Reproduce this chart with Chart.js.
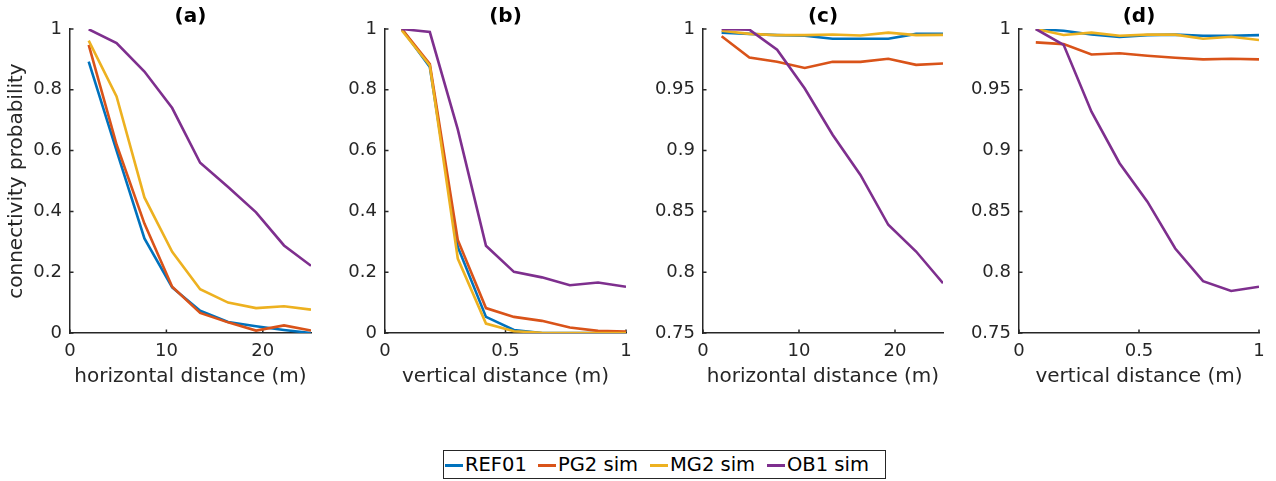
<!DOCTYPE html>
<html>
<head>
<meta charset="utf-8">
<script src="https://cdn.jsdelivr.net/npm/chart.js@4/dist/chart.umd.min.js"></script>
<style>
body { margin: 0; background: #fff; width: 1276px; height: 481px; position: relative; overflow: hidden; font-family: "DejaVu Sans", sans-serif; }
canvas { position: absolute; top: 0; }
#legend { position: absolute; left: 443px; top: 450px; width: 441px; height: 27px; border: 1px solid #262626; background: #fff; }
.item { position: absolute; top: 0; height: 27px; line-height: 27px; font-size: 19.5px; color: #000; white-space: nowrap; }
.sw { display: inline-block; width: 18px; height: 3px; vertical-align: middle; margin-right: 2px; }
</style>
</head>
<body>
<canvas id="chartA" width="331" height="400" style="left:0px"></canvas>
<canvas id="chartB" width="331" height="400" style="left:315px"></canvas>
<canvas id="chartC" width="331" height="400" style="left:633px"></canvas>
<canvas id="chartD" width="331" height="400" style="left:949px"></canvas>
<div id="legend"></div>
<script>
// distances (bin centres)
const xHoriz = [1.94, 4.83, 7.72, 10.6, 13.5, 16.4, 19.3, 22.2, 25.0];
const xVert = [0.07, 0.186, 0.302, 0.419, 0.535, 0.651, 0.767, 0.884, 1.0];

// (a) horizontal
const refA = [0.893, 0.60, 0.311, 0.15, 0.073, 0.036, 0.022, 0.01, 0.0];
const pg2A = [0.948, 0.62, 0.36, 0.152, 0.066, 0.035, 0.008, 0.025, 0.008];
const mg2A = [0.962, 0.778, 0.446, 0.267, 0.144, 0.10, 0.082, 0.088, 0.077];
const ob1A = [0.999, 0.954, 0.86, 0.74, 0.56, 0.48, 0.397, 0.288, 0.221];

// (b) vertical
const refB = [1.0, 0.875, 0.283, 0.053, 0.01, 0.0, 0.0, 0.0, 0.0];
const pg2B = [1.0, 0.885, 0.306, 0.082, 0.053, 0.04, 0.018, 0.007, 0.005];
const mg2B = [0.995, 0.88, 0.245, 0.031, 0.006, 0.001, 0.0, 0.0, 0.0];
const ob1B = [1.0, 0.99, 0.67, 0.287, 0.201, 0.183, 0.157, 0.166, 0.152];

// (c) horizontal, zoomed
const refC = [0.997, 0.996, 0.995, 0.9945, 0.992, 0.992, 0.992, 0.996, 0.996];
const pg2C = [0.994, 0.9766, 0.973, 0.968, 0.973, 0.973, 0.9755, 0.9705, 0.9716];
const mg2C = [0.9986, 0.996, 0.995, 0.995, 0.9955, 0.9946, 0.997, 0.995, 0.9952];
const ob1C = [1.0, 0.9995, 0.983, 0.951, 0.913, 0.880, 0.839, 0.817, 0.791];

// (d) vertical, zoomed
const refD = [1.0, 0.9985, 0.9955, 0.9935, 0.995, 0.9954, 0.9945, 0.9945, 0.995];
const pg2D = [0.989, 0.9876, 0.979, 0.980, 0.978, 0.9763, 0.975, 0.9755, 0.975];
const mg2D = [1.0, 0.9951, 0.997, 0.9945, 0.9954, 0.9954, 0.992, 0.9936, 0.9909];
const ob1D = [1.0, 0.987, 0.932, 0.8896, 0.858, 0.8195, 0.7926, 0.7846, 0.788];

const seriesNames = ['REF01', 'PG2 sim', 'MG2 sim', 'OB1 sim'];
const seriesColors = ['#0072BD', '#D95319', '#EDB120', '#7E2F8E'];

const xTicksH = [0, 10, 20];
const xTicksV = [0, 0.5, 1];
const yTicksFull = [0, 0.2, 0.4, 0.6, 0.8, 1];
const yTicksZoom = [0.75, 0.8, 0.85, 0.9, 0.95, 1];

const axisColor = '#262626';
const fontFamily = '"DejaVu Sans", sans-serif';

// MATLAB style inward tick marks
const innerTicks = {
    id: 'innerTicks',
    beforeDatasetsDraw(chart) {
        const { ctx, chartArea: a, scales: { x, y } } = chart;
        ctx.save();
        ctx.strokeStyle = axisColor;
        ctx.lineWidth = 1.5;
        ctx.beginPath();
        x.ticks.forEach(t => {
            const px = x.getPixelForValue(t.value);
            ctx.moveTo(px, a.bottom);
            ctx.lineTo(px, a.bottom - 3.5);
        });
        y.ticks.forEach(t => {
            const py = y.getPixelForValue(t.value);
            ctx.moveTo(a.left, py);
            ctx.lineTo(a.left + 3.5, py);
        });
        ctx.stroke();
        ctx.restore();
    }
};

function drawPanel(id, title, xs, series, xMax, xTicks, yMin, yTicks, xTitle, yTitle, plotWidth) {
    const ctx = document.getElementById(id).getContext('2d');
    return new Chart(ctx, {
        type: 'line',
        data: {
            datasets: series.map((vals, i) => ({
                label: seriesNames[i],
                data: vals.map((v, j) => ({ x: xs[j], y: v })),
                borderColor: seriesColors[i],
                backgroundColor: seriesColors[i],
                borderWidth: 2.6,
                pointRadius: 0,
                tension: 0,
                fill: false,
                order: series.length - i
            }))
        },
        options: {
            responsive: false,
            animation: false,
            events: [],
            layout: { padding: { left: 0, right: 331 - 70 - plotWidth, top: 0, bottom: 0 } },
            plugins: {
                legend: { display: false },
                tooltip: { enabled: false },
                title: {
                    display: true,
                    text: title,
                    fullSize: false,
                    color: '#000',
                    font: { family: fontFamily, size: 20, weight: 'bold' },
                    padding: { top: 5, bottom: 0 }
                }
            },
            scales: {
                x: {
                    type: 'linear',
                    min: 0,
                    max: xMax,
                    afterFit: s => { s.height = 67; },
                    afterBuildTicks: s => { s.ticks = xTicks.map(v => ({ value: v })); },
                    grid: { display: false, drawTicks: false },
                    border: { display: true, color: axisColor, width: 1.5 },
                    ticks: {
                        autoSkip: false,
                        maxRotation: 0,
                        padding: 8,
                        color: axisColor,
                        font: { family: fontFamily, size: 18 },
                        callback: v => String(v)
                    },
                    title: {
                        display: true,
                        text: xTitle,
                        color: axisColor,
                        font: { family: fontFamily, size: 20 },
                        padding: { top: 0, bottom: 11 }
                    }
                },
                y: {
                    type: 'linear',
                    min: yMin,
                    max: 1,
                    afterFit: s => { s.width = 70; },
                    afterBuildTicks: s => { s.ticks = yTicks.map(v => ({ value: v })); },
                    grid: { display: false, drawTicks: false },
                    border: { display: true, color: axisColor, width: 1.5 },
                    ticks: {
                        autoSkip: false,
                        padding: 8,
                        color: axisColor,
                        font: { family: fontFamily, size: 18 },
                        callback: v => String(v)
                    },
                    title: {
                        display: !!yTitle,
                        text: yTitle,
                        color: axisColor,
                        font: { family: fontFamily, size: 20 },
                        padding: { top: 5, bottom: 0 }
                    }
                }
            }
        },
        plugins: [innerTicks]
    });
}

drawPanel('chartA', '(a)', xHoriz, [refA, pg2A, mg2A, ob1A], 25, xTicksH, 0, yTicksFull, 'horizontal distance (m)', 'connectivity probability', 241);
drawPanel('chartB', '(b)', xVert, [refB, pg2B, mg2B, ob1B], 1, xTicksV, 0, yTicksFull, 'vertical distance (m)', '', 241);
drawPanel('chartC', '(c)', xHoriz, [refC, pg2C, mg2C, ob1C], 25, xTicksH, 0.75, yTicksZoom, 'horizontal distance (m)', '', 240);
drawPanel('chartD', '(d)', xVert, [refD, pg2D, mg2D, ob1D], 1, xTicksV, 0.75, yTicksZoom, 'vertical distance (m)', '', 240);

// shared legend below the panels
const legendOffsets = [1, 94, 206, 323];
const legendEl = document.getElementById('legend');
seriesNames.forEach((name, i) => {
    const item = document.createElement('div');
    item.className = 'item';
    item.style.left = legendOffsets[i] + 'px';
    const sw = document.createElement('span');
    sw.className = 'sw';
    sw.style.background = seriesColors[i];
    item.appendChild(sw);
    item.appendChild(document.createTextNode(name));
    legendEl.appendChild(item);
});
</script>
</body>
</html>
